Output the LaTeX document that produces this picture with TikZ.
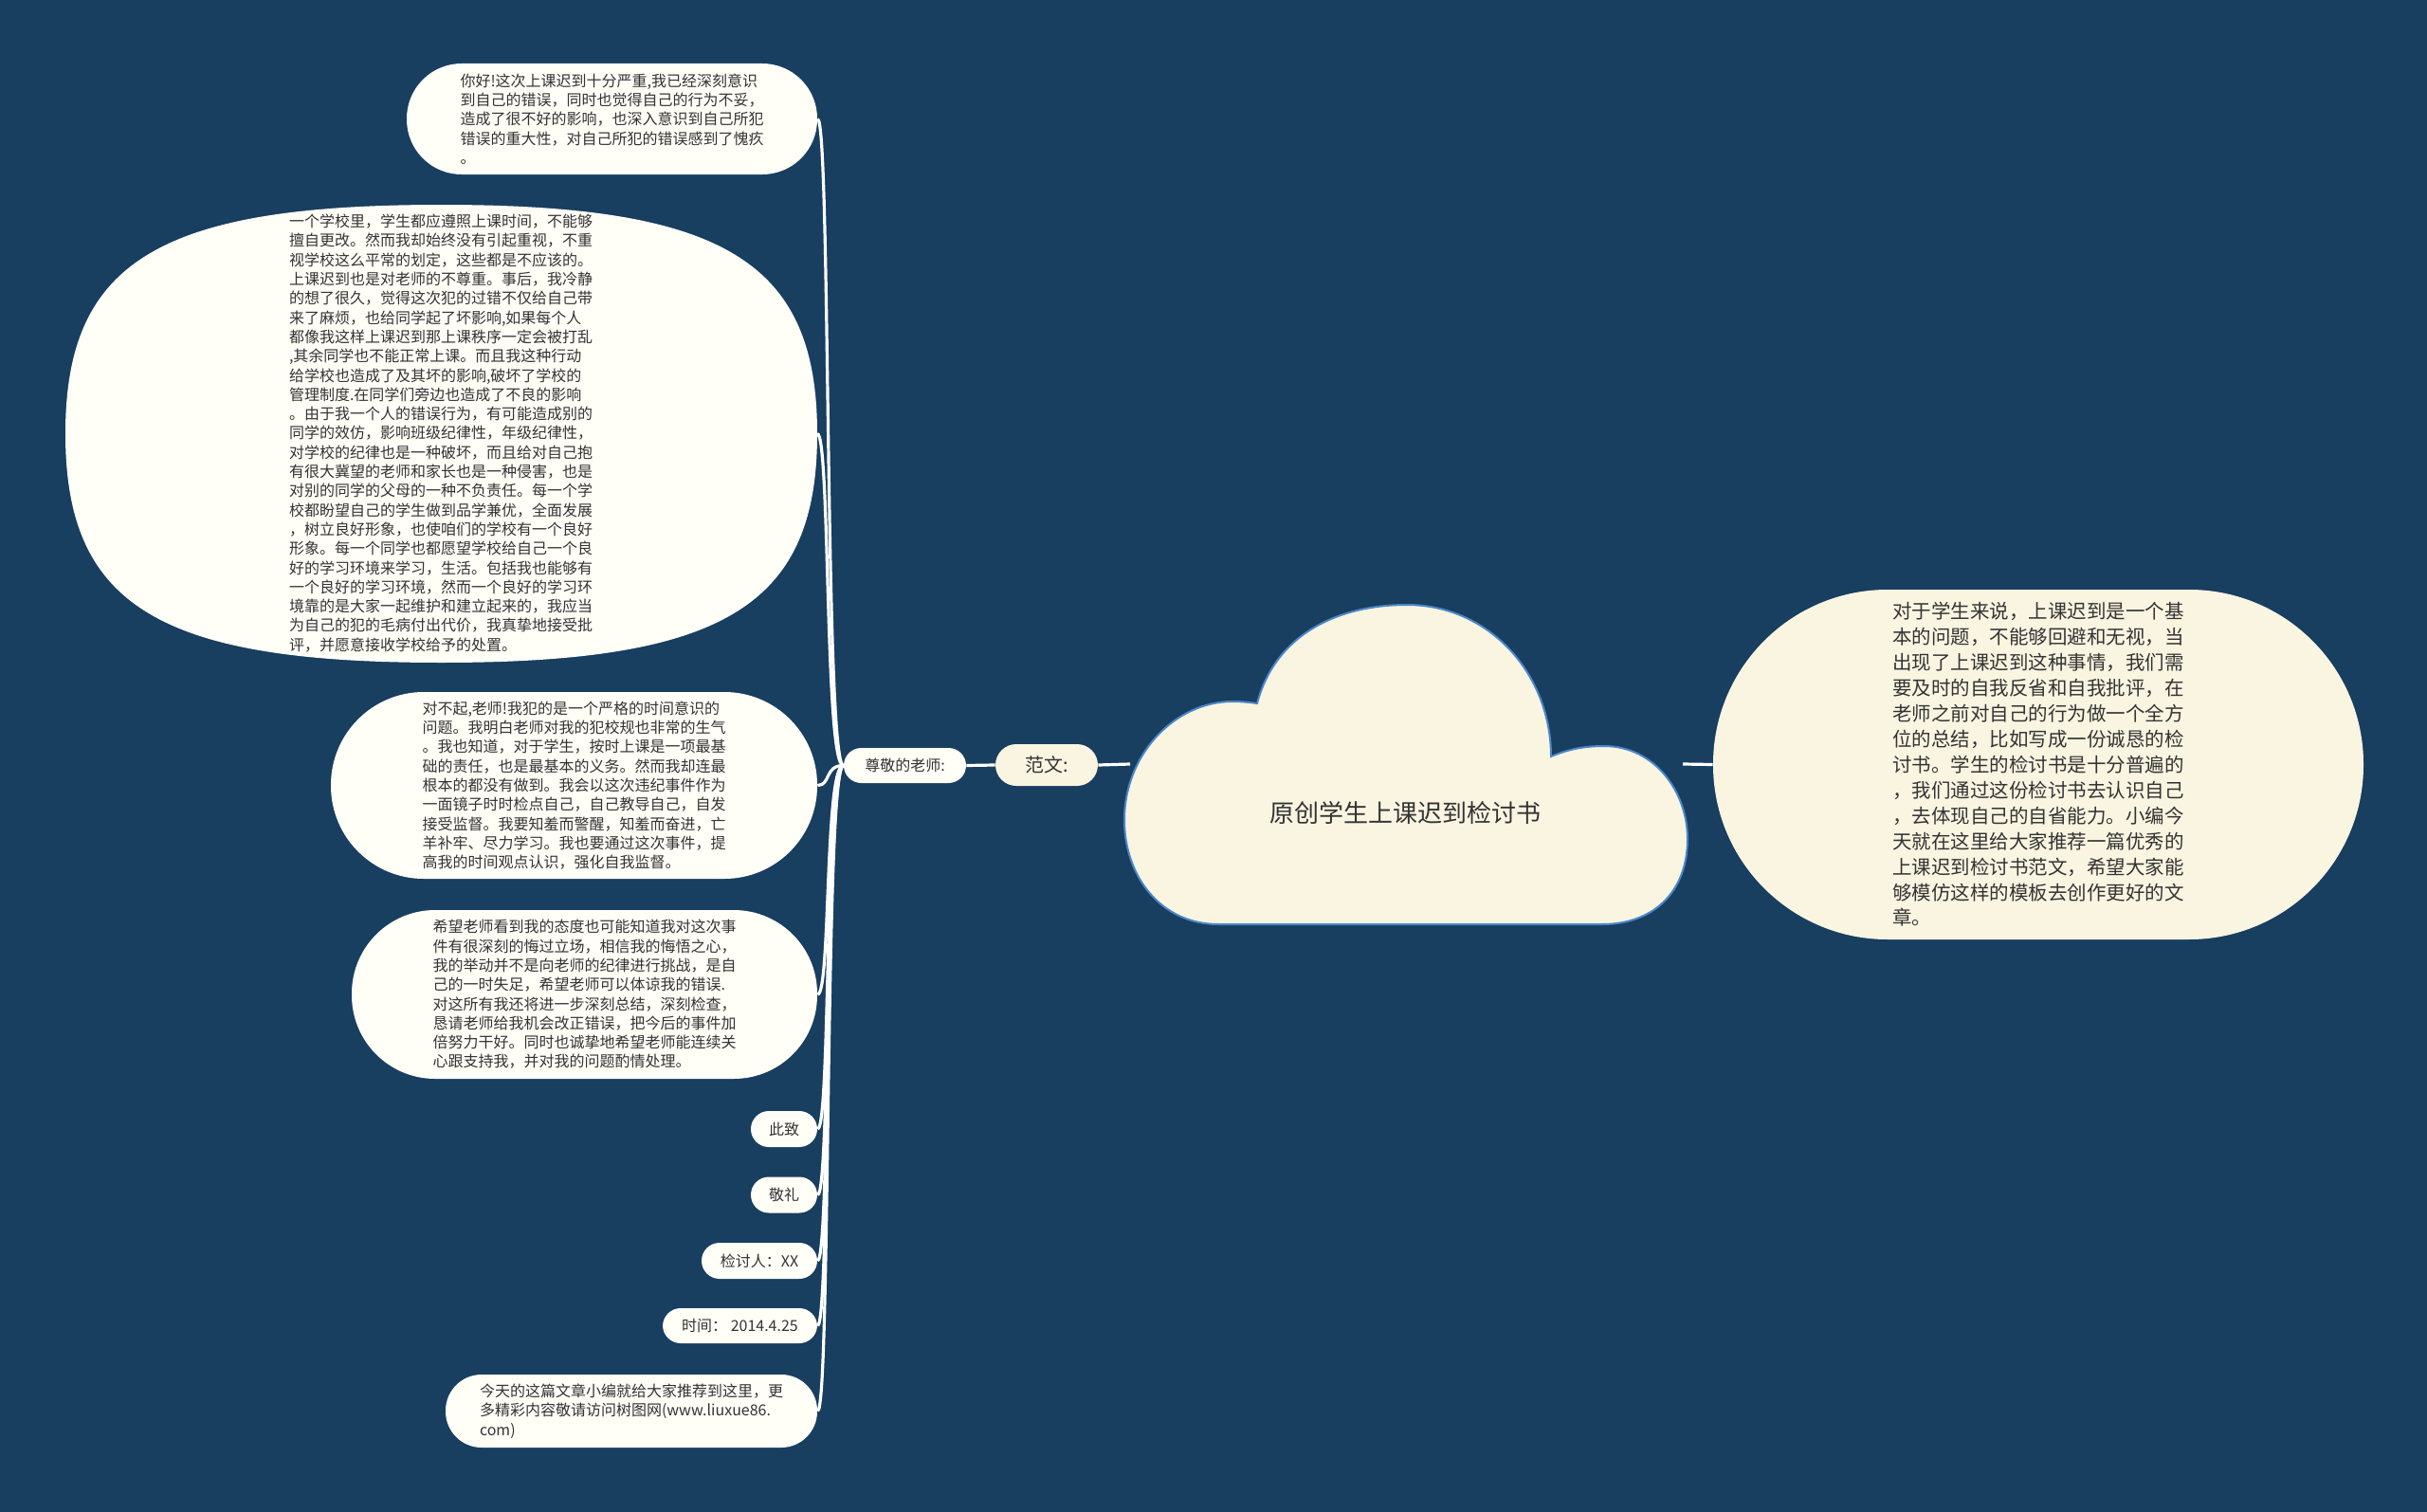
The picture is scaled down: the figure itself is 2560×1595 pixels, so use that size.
\documentclass[tikz,border=0pt]{standalone}
\usepackage{fontspec}
\newfontfamily\cjk{Noto Sans CJK SC}
\usetikzlibrary{shapes.geometric}
\definecolor{bg}{RGB}{24,62,96}
\definecolor{paleA}{RGB}{255,254,247}
\definecolor{cream}{RGB}{250,245,225}
\definecolor{ink}{RGB}{51,51,51}
\definecolor{edgeblue}{RGB}{74,134,200}
\begin{document}
\begin{tikzpicture}[x=0.5pt,y=-0.5pt,
  bubble/.style={fill=paleA, draw=none, inner sep=0pt, text=ink, align=left,
    font=\cjk\fontsize{8}{10.15}\selectfont},
  pill/.style={bubble, rectangle, rounded corners=#1},
  conn/.style={draw=white, line width=1.6pt},
  creamnode/.style={fill=cream, draw=none, inner sep=0pt, text=ink, align=left}]
\useasboundingbox (0,0) rectangle (2560,1595);
\fill[bg] (0,0) rectangle (2560,1595);

% left side nodes
\node[pill=29pt, minimum width=216.5pt, minimum height=58.5pt] (n1) at (645.5,125.5)
{你好!这次上课迟到十分严重,我已经深刻意识\\到自己的错误，同时也觉得自己的行为不妥，\\造成了很不好的影响，也深入意识到自己所犯\\错误的重大性，对自己所犯的错误感到了愧疚\\。};

% big rounded (squircle-like) bubble
\fill[paleA] (69,457.5) .. controls (69,276) and (168,216) .. (465.5,216)
  .. controls (763,216) and (862,276) .. (862,457.5)
  .. controls (862,639) and (763,699) .. (465.5,699)
  .. controls (168,699) and (69,639) .. (69,457.5) -- cycle;
\coordinate (n2e) at (862,457.5);
\node[bubble, fill=none] (n2) at (465,457)
{一个学校里，学生都应遵照上课时间，不能够\\擅自更改。然而我却始终没有引起重视，不重\\视学校这么平常的划定，这些都是不应该的。\\上课迟到也是对老师的不尊重。事后，我冷静\\的想了很久，觉得这次犯的过错不仅给自己带\\来了麻烦，也给同学起了坏影响,如果每个人\\都像我这样上课迟到那上课秩序一定会被打乱\\,其余同学也不能正常上课。而且我这种行动\\给学校也造成了及其坏的影响,破坏了学校的\\管理制度.在同学们旁边也造成了不良的影响\\。由于我一个人的错误行为，有可能造成别的\\同学的效仿，影响班级纪律性，年级纪律性，\\对学校的纪律也是一种破坏，而且给对自己抱\\有很大冀望的老师和家长也是一种侵害，也是\\对别的同学的父母的一种不负责任。每一个学\\校都盼望自己的学生做到品学兼优，全面发展\\，树立良好形象，也使咱们的学校有一个良好\\形象。每一个同学也都愿望学校给自己一个良\\好的学习环境来学习，生活。包括我也能够有\\一个良好的学习环境，然而一个良好的学习环\\境靠的是大家一起维护和建立起来的，我应当\\为自己的犯的毛病付出代价，我真挚地接受批\\评，并愿意接收学校给予的处置。};

\node[pill=49pt, minimum width=256.5pt, minimum height=98.5pt] (n3) at (605.5,828.5)
{对不起,老师!我犯的是一个严格的时间意识的\\问题。我明白老师对我的犯校规也非常的生气\\。我也知道，对于学生，按时上课是一项最基\\础的责任，也是最基本的义务。然而我却连最\\根本的都没有做到。我会以这次违纪事件作为\\一面镜子时时检点自己，自己教导自己，自发\\接受监督。我要知羞而警醒，知羞而奋进，亡\\羊补牢、尽力学习。我也要通过这次事件，提\\高我的时间观点认识，强化自我监督。};

\node[pill=44pt, minimum width=245.5pt, minimum height=89pt] (n4) at (616.5,1049)
{希望老师看到我的态度也可能知道我对这次事\\件有很深刻的悔过立场，相信我的悔悟之心，\\我的举动并不是向老师的纪律进行挑战，是自\\己的一时失足，希望老师可以体谅我的错误.\\对这所有我还将进一步深刻总结，深刻检查，\\恳请老师给我机会改正错误，把今后的事件加\\倍努力干好。同时也诚挚地希望老师能连续关\\心跟支持我，并对我的问题酌情处理。};

\node[pill=9.5pt, minimum width=35pt, minimum height=19pt] (n5) at (827,1191) {此致};
\node[pill=9.5pt, minimum width=35pt, minimum height=19pt] (n6) at (827,1260.5) {敬礼};
\node[pill=9.5pt, minimum width=61pt, minimum height=19pt] (n7) at (801,1330) {检讨人：XX};
\node[pill=9.5pt, minimum width=81.5pt, minimum height=18.5pt] (n8) at (780.5,1398.5) {时间： 2014.4.25};
\node[pill=19pt, minimum width=196pt, minimum height=38.5pt] (n9) at (666,1488.5)
{今天的这篇文章小编就给大家推荐到这里，更\\多精彩内容敬请访问树图网(www.liuxue86.\\com)};

\node[pill=9.25pt, minimum width=64.5pt, minimum height=18.5pt] (n10) at (954.5,807.5) {尊敬的老师:};
\node[creamnode, rounded corners=11pt, minimum width=54pt, minimum height=22pt,
  font=\cjk\fontsize{10}{12}\selectfont] (n11) at (1104,807) {范文:};

% right node
\node[creamnode, rounded corners=92pt, minimum width=343pt, minimum height=184.5pt,
  font=\cjk\fontsize{10.25}{13.46}\selectfont] (n12) at (2150,806.5)
{对于学生来说，上课迟到是一个基\\本的问题，不能够回避和无视，当\\出现了上课迟到这种事情，我们需\\要及时的自我反省和自我批评，在\\老师之前对自己的行为做一个全方\\位的总结，比如写成一份诚恳的检\\讨书。学生的检讨书是十分普遍的\\，我们通过这份检讨书去认识自己\\，去体现自己的自省能力。小编今\\天就在这里给大家推荐一篇优秀的\\上课迟到检讨书范文，希望大家能\\够模仿这样的模板去创作更好的文\\章。};

% connectors
\coordinate (cl) at (1192,806);
\coordinate (cr) at (1775,806);
\foreach \n in {n1,n3,n4,n5,n6,n7,n8,n9}
  \draw[conn] (n10.west) .. controls +(-20,0) and +(14,0) .. (\n.east);
\draw[conn] (n10.west) .. controls +(-20,0) and +(14,0) .. (n2e);
\draw[conn] (n11.west) -- (n10.east);
\draw[conn] (cl) -- (n11.east);
\draw[conn] (cr) -- (n12.west);

% cloud
\filldraw[fill=cream, draw=edgeblue, line width=1pt]
  (1326,742) .. controls (1345,670) and (1410,638) .. (1484,638)
  .. controls (1570,638) and (1636,710) .. (1636,798)
  .. controls (1655,790) and (1672,787) .. (1692,787)
  .. controls (1745,787) and (1780,835) .. (1780,885)
  .. controls (1780,940) and (1745,975) .. (1690,975)
  -- (1285,975)
  .. controls (1225,975) and (1186,925) .. (1186,865)
  .. controls (1186,795) and (1240,740) .. (1300,740)
  .. controls (1310,740) and (1318,741) .. (1326,742) -- cycle;
\node[text=ink, font=\cjk\fontsize{13}{15}\selectfont] (title) at (1482,857) {原创学生上课迟到检讨书};
\end{tikzpicture}
\end{document}
